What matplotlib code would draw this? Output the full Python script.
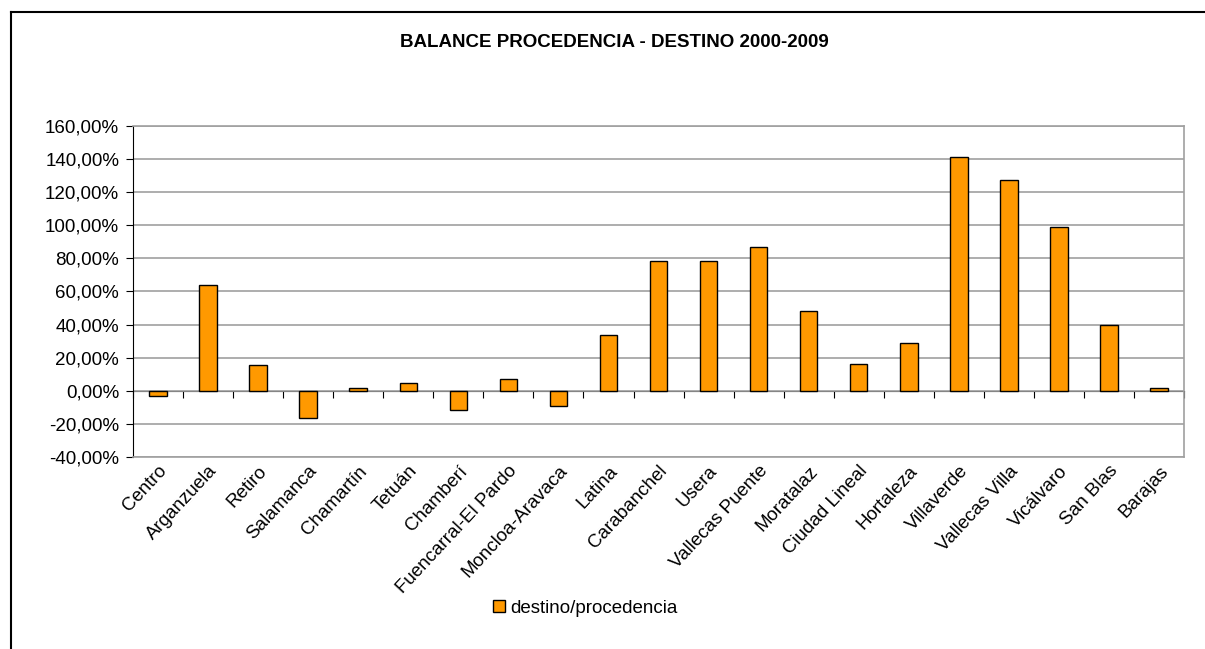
import matplotlib
matplotlib.use("Agg")
import matplotlib.pyplot as plt
from matplotlib.lines import Line2D
from matplotlib.ticker import FuncFormatter
import numpy as np

plt.rcParams['font.family'] = ['Liberation Sans', 'DejaVu Sans']

# data
distritos = ['Centro', 'Arganzuela', 'Retiro', 'Salamanca', 'Chamartín', 'Tetuán',
             'Chamberí', 'Fuencarral-El Pardo', 'Moncloa-Aravaca', 'Latina',
             'Carabanchel', 'Usera', 'Vallecas Puente', 'Moratalaz', 'Ciudad Lineal',
             'Hortaleza', 'Villaverde', 'Vallecas Villa', 'Vicálvaro', 'San Blas', 'Barajas']
balance = [-3.0, 63.8, 15.7, -16.7, 1.8, 4.6, -11.3, 7.4, -9.3, 34.0,
           78.7, 78.7, 86.9, 48.1, 16.5, 28.8, 141.4, 127.6, 99.0, 39.6, 2.0]
y_ticks = [-40, -20, 0, 20, 40, 60, 80, 100, 120, 140, 160]

fig = plt.figure(figsize=(12.05, 6.49), dpi=100)
ax = fig.add_axes([0.1104, 0.2958, 0.8722, 0.5101])

x = np.arange(len(distritos))
ax.bar(x, balance, width=0.35, color='#FF9900', edgecolor='black', linewidth=1,
       label='destino/procedencia', zorder=3)

ax.set_xlim(-0.5, len(distritos) - 0.5)
ax.set_ylim(y_ticks[0], y_ticks[-1])
ax.set_yticks(y_ticks)
ax.yaxis.set_major_formatter(FuncFormatter(lambda v, p: ('%.2f' % v).replace('.', ',') + '%'))
ax.tick_params(axis='y', direction='out', length=5, labelsize=13.5, colors='black', pad=5)
ax.grid(axis='y', color='#A0A0A0', linewidth=1.2, zorder=0)

ax.set_xticks(x)
ax.set_xticklabels(distritos, rotation=47, ha='right', rotation_mode='anchor', fontsize=13.5)
ax.tick_params(axis='x', length=0, pad=4)

for s in ['top', 'right', 'bottom']:
    ax.spines[s].set_color('#A0A0A0')
    ax.spines[s].set_linewidth(1.2)
ax.spines['left'].set_color('black')

# zero line with category separators
zero_pos = (0 - y_ticks[0]) / (y_ticks[-1] - y_ticks[0])
sec = ax.secondary_xaxis(zero_pos)
sec.set_xticks(np.arange(-0.5, len(distritos), 1.0))
sec.set_xticklabels([])
sec.tick_params(direction='out', length=5, color='black')
sec.spines['bottom'].set_color('black')
sec.spines['bottom'].set_zorder(4)

fig.text(0.51, 0.935, 'BALANCE PROCEDENCIA - DESTINO 2000-2009',
         ha='center', va='center', fontsize=13.5, fontweight='bold')

leg = fig.legend(handles=[Line2D([], [], marker='s', linestyle='none', markersize=9,
                                 markerfacecolor='#FF9900', markeredgecolor='black')],
                 labels=['destino/procedencia'], loc='center', bbox_to_anchor=(0.484, 0.063),
                 frameon=False, fontsize=13.5, handletextpad=0.1, handlelength=1)

# outer frame of the original sheet
fig.add_artist(Line2D([11 / 1205, 1.0], [1 - 12 / 649, 1 - 12 / 649], color='black', linewidth=1.5))
fig.add_artist(Line2D([11 / 1205, 11 / 1205], [0.0, 1 - 12 / 649], color='black', linewidth=1.5))

fig.savefig('out.png', dpi=100)
